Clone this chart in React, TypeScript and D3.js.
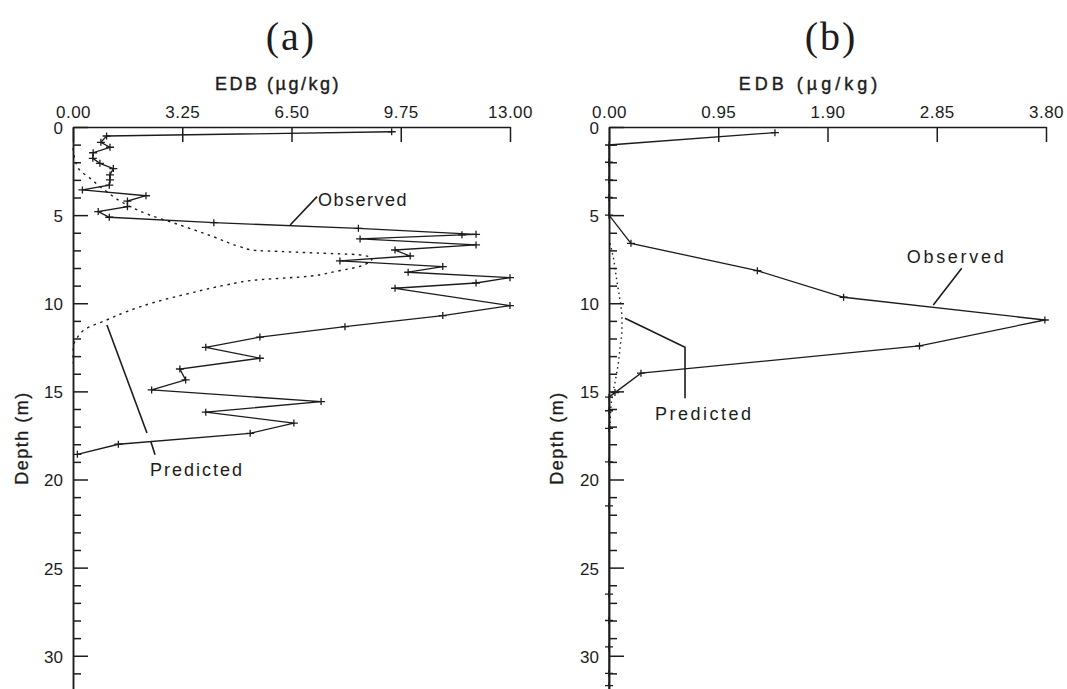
import React, { useRef, useEffect } from "react";
import * as d3 from "d3";

const WIDTH = 1067;
const HEIGHT = 689;
const INK = "#1c1c1c";

// panel (a): observed profile
const obsDepthA = [0.27, 0.51, 0.87, 1.15, 1.46, 1.78, 2.06, 2.36, 2.72, 3.0, 3.3, 3.57, 3.9, 4.2, 4.52, 4.8, 5.12, 5.43, 5.75, 6.09, 6.12, 6.35, 6.69, 6.98, 7.32, 7.6, 7.92, 8.24, 8.55, 8.85, 9.15, 10.13, 10.7, 11.33, 11.92, 12.5, 13.12, 13.73, 14.35, 14.92, 15.58, 16.18, 16.8, 17.38, 18.0, 18.57];
const obsEdbA = [9.48, 1.0, 0.83, 1.1, 0.6, 0.59, 0.8, 1.2, 1.1, 1.1, 1.08, 0.28, 2.17, 1.62, 1.62, 0.75, 1.08, 4.19, 8.49, 11.99, 11.57, 8.54, 11.99, 9.58, 10.03, 7.94, 11.0, 9.97, 13.0, 11.99, 9.58, 13.0, 11.0, 8.09, 5.56, 3.95, 5.56, 3.18, 3.35, 2.34, 7.38, 3.95, 6.57, 5.27, 1.35, 0.13];

// panel (a): predicted profile
const predDepthA = [1.2, 2.35, 2.9, 3.67, 4.42, 5.0, 5.56, 6.22, 6.79, 7.0, 7.07, 7.15, 7.25, 7.45, 7.9, 8.2, 8.49, 8.68, 8.96, 9.43, 9.91, 10.47, 10.95, 11.42, 12.0, 12.5, 13.4];
const predEdbA = [0, 0.16, 0.5, 1.0, 1.6, 2.29, 3.18, 4.17, 4.97, 5.4, 6.25, 7.25, 8.5, 8.9, 8.54, 7.8, 6.9, 5.46, 4.57, 3.48, 2.49, 1.6, 1.0, 0.41, 0.11, 0.01, 0];

// panel (b): observed profile
const obsDepthB = [0.32, 1.02, 2, 3, 4, 5, 6.6, 8.15, 9.66, 10.95, 12.42, 13.97, 15.07, 15.33, 16.1, 17.1, 19.0, 21.5, 26.5, 28.0, 29.5, 31.0, 31.7];
const obsEdbB = [1.443, 0, 0, 0, 0, 0, 0.191, 1.29, 2.04, 3.79, 2.7, 0.278, 0.052, 0, 0, 0, 0, 0, 0, 0, 0, 0, 0];

// panel (b): predicted profile
const predDepthB = [6.6, 7.5, 8.68, 9.6, 10.4, 11.0, 11.6, 12.3, 13.4, 14.5, 15.5, 16.6, 17.3];
const predEdbB = [0.009, 0.04, 0.067, 0.09, 0.108, 0.113, 0.112, 0.1, 0.081, 0.052, 0.023, 0.01, 0.004];

const xTicksA = [0, 3.25, 6.5, 9.75, 13];
const xTicksB = [0, 0.95, 1.9, 2.85, 3.8];
const depthMajor = [0, 5, 10, 15, 20, 25, 30];
const depthMinor = [1, 2, 3, 4, 6, 7, 8, 9, 11, 12, 13, 14, 16, 17, 18, 19, 21, 22, 23, 24, 26, 27, 28, 29, 31, 32];

const SANS = "'Liberation Sans', Arial, sans-serif";

const panels = [
    {
        title: "(a)",
        titleX: 291,
        labelX: 278,
        labelSpacing: 2.5,
        left: 73,
        right: 510,
        xMax: 13,
        xTicks: xTicksA,
        depthLabelX: 22,
        obsDepth: obsDepthA,
        obsEdb: obsEdbA,
        predDepth: predDepthA,
        predEdb: predEdbA,
        dash: "2.5,4.5",
        obsText: { x: 7.29, d: 4.48, spacing: 1.5 },
        obsLeader: [[[6.46, 5.56], [7.26, 3.95]]],
        predText: { x: 2.29, d: 19.8, spacing: 2 },
        predLeader: [
            [[1.01, 11.23], [2.2, 17.36]],
            [[2.32, 17.87], [2.44, 18.6]],
        ],
    },
    {
        title: "(b)",
        titleX: 831,
        labelX: 810,
        labelSpacing: 4,
        left: 609,
        right: 1046,
        xMax: 3.8,
        xTicks: xTicksB,
        depthLabelX: 557,
        obsDepth: obsDepthB,
        obsEdb: obsEdbB,
        predDepth: predDepthB,
        predEdb: predEdbB,
        dash: "1.5,3.5",
        obsText: { x: 2.589, d: 7.71, spacing: 2.7 },
        obsLeader: [[[3.067, 8.01], [2.82, 10.1]]],
        predText: { x: 0.4, d: 16.62, spacing: 2.5 },
        predLeader: [
            [[0.139, 10.85], [0.661, 12.5], [0.661, 15.39]],
        ],
    },
];

function drawPanel(root, p) {
    const x = d3.scaleLinear().domain([0, p.xMax]).range([p.left, p.right]);
    const y = d3.scaleLinear().domain([0, 32]).range([127, 691]);

    root.append("text")
        .attr("x", p.titleX)
        .attr("y", 50)
        .attr("text-anchor", "middle")
        .style("font-family", "'Liberation Serif', 'DejaVu Serif', serif")
        .style("font-size", "40px")
        .style("letter-spacing", "2px")
        .attr("fill", INK)
        .text(p.title);

    root.append("text")
        .attr("x", p.labelX)
        .attr("y", 90)
        .attr("text-anchor", "middle")
        .style("font-family", SANS)
        .style("font-size", "18px")
        .style("letter-spacing", `${p.labelSpacing}px`)
        .attr("fill", INK)
        .attr("stroke", INK)
        .attr("stroke-width", 0.4)
        .text("EDB (\u00b5g/kg)");

    root.append("text")
        .attr("transform", `translate(${p.depthLabelX}, 438) rotate(-90)`)
        .attr("text-anchor", "middle")
        .attr("dy", "0.35em")
        .style("font-family", SANS)
        .style("font-size", "18px")
        .style("letter-spacing", "1.5px")
        .attr("fill", INK)
        .attr("stroke", INK)
        .attr("stroke-width", 0.3)
        .text("Depth (m)");

    // top axis, ticks pointing down into the plot
    const top = root.append("g")
        .attr("transform", `translate(0, ${y(0)})`)
        .call(
            d3.axisTop(x)
                .tickValues(p.xTicks)
                .tickFormat(d3.format(".2f"))
                .tickSizeInner(-15)
                .tickSizeOuter(0)
                .tickPadding(9)
        );

    // left axis: minor ticks then labelled major ticks
    root.append("g")
        .attr("transform", `translate(${x(0)}, 0)`)
        .call(
            d3.axisLeft(y)
                .tickValues(depthMinor)
                .tickFormat(() => "")
                .tickSizeInner(-8)
                .tickSizeOuter(0)
        );
    const leftAx = root.append("g")
        .attr("transform", `translate(${x(0)}, 0)`)
        .call(
            d3.axisLeft(y)
                .tickValues(depthMajor)
                .tickFormat(d3.format("d"))
                .tickSizeInner(-15)
                .tickSizeOuter(0)
                .tickPadding(10)
        );

    root.selectAll(".domain, .tick line")
        .attr("stroke", INK)
        .attr("stroke-width", 1.5);
    root.selectAll(".tick text")
        .attr("fill", INK)
        .style("font-family", SANS)
        .style("font-size", "17px");
    top.selectAll(".tick text").style("letter-spacing", "0.5px");
    leftAx.selectAll(".tick text").attr("dy", "0.38em");

    // predicted (dotted)
    const predPts = p.predDepth.map((d, i) => [p.predEdb[i], d]);
    const predLine = d3.line()
        .x((d) => x(d[0]))
        .y((d) => y(d[1]))
        .curve(d3.curveMonotoneY);
    root.append("path")
        .attr("d", predLine(predPts))
        .attr("fill", "none")
        .attr("stroke", INK)
        .attr("stroke-width", 1.4)
        .attr("stroke-dasharray", p.dash);

    // observed (solid with + markers)
    const obsPts = p.obsDepth.map((d, i) => [p.obsEdb[i], d]);
    const obsLine = d3.line()
        .x((d) => x(d[0]))
        .y((d) => y(d[1]));
    root.append("path")
        .attr("d", obsLine(obsPts))
        .attr("fill", "none")
        .attr("stroke", INK)
        .attr("stroke-width", 1.3);
    root.append("g")
        .selectAll("path")
        .data(obsPts)
        .enter()
        .append("path")
        .attr("transform", (d) => `translate(${x(d[0])}, ${y(d[1])})`)
        .attr("d", "M-4,0H4M0,-3.5V3.5")
        .attr("stroke", INK)
        .attr("stroke-width", 1.3);

    // annotations
    const leader = d3.line()
        .x((d) => x(d[0]))
        .y((d) => y(d[1]));
    [...p.obsLeader, ...p.predLeader].forEach((seg) => {
        root.append("path")
            .attr("d", leader(seg))
            .attr("fill", "none")
            .attr("stroke", INK)
            .attr("stroke-width", 1.6);
    });
    [
        ["Observed", p.obsText],
        ["Predicted", p.predText],
    ].forEach(([label, t]) => {
        root.append("text")
            .attr("x", x(t.x))
            .attr("y", y(t.d))
            .style("font-family", SANS)
            .style("font-size", "18px")
            .style("letter-spacing", `${t.spacing}px`)
            .attr("fill", INK)
            .text(label);
    });
}

const App = () => {
    const svgRef = useRef(null);

    useEffect(() => {
        const root = d3.select(svgRef.current);
        root.selectAll("*").remove();
        root.append("rect")
            .attr("width", WIDTH)
            .attr("height", HEIGHT)
            .attr("fill", "#ffffff");
        panels.forEach((p) => drawPanel(root.append("g"), p));
    }, []);

    return (
        <svg
            ref={svgRef}
            width={WIDTH}
            height={HEIGHT}
            style={{ position: "absolute", left: 0, top: 0, display: "block" }}
        />
    );
};

export default App;
